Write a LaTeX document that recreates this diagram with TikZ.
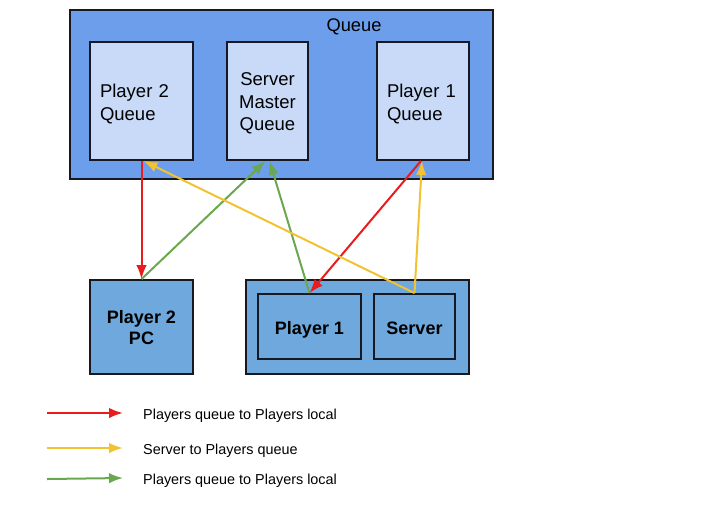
\documentclass[tikz,border=0pt]{standalone}
\usepackage{fontspec}
\setmainfont{Liberation Sans}
\usetikzlibrary{arrows.meta}

\definecolor{edge}{RGB}{22,24,34}
\definecolor{qblue}{RGB}{109,158,235}
\definecolor{qlight}{RGB}{201,218,248}
\definecolor{pcblue}{RGB}{111,168,220}
\definecolor{redline}{RGB}{232,28,28}
\definecolor{yellowline}{RGB}{241,194,50}
\definecolor{greenline}{RGB}{106,168,79}

\begin{document}
\begin{tikzpicture}[x=1pt, y=-1pt, >={Latex[length=14pt,width=10.5pt]},
 box/.style = {draw=edge, line width=1.8pt, inner sep=0pt},
 qbox/.style = {box, fill=qlight, minimum height=118pt, inner xsep=10pt, text height=15pt,
   font=\fontsize{18.5}{22.5}\selectfont},
 pcbox/.style = {box, fill=pcblue, font=\bfseries\fontsize{18}{21.5}\selectfont, align=center, text depth=0pt},
 link/.style = {->, line width=2pt},
 legend/.style = {anchor=west, inner sep=0pt, font=\fontsize{14.4}{17}\selectfont}]
\useasboundingbox (0,0) rectangle (720,507);

% queues
\node[box, fill=qblue, minimum width=423pt, minimum height=169pt] (queue) at (281.5,94.5) {};
\node[font=\fontsize{18.3}{22}\selectfont] (qtitle) at (354,26.5) {Queue};
\node[qbox, text width=83pt, align=left, text depth=21.8pt] (p2q) at (141.5,101) {Player 2\\Queue};
\node[qbox, text width=61pt, align=center, text depth=45.8pt] (smq) at (267.5,101) {Server\\Master\\Queue};
\node[qbox, text width=72pt, align=left, text depth=21.8pt] (p1q) at (423,101) {Player 1\\Queue};

% local machines
\node[pcbox, minimum width=103pt, minimum height=94pt, text height=35pt] (p2pc) at (141.5,327) {Player 2\\PC};
\node[box, fill=pcblue, minimum width=223pt, minimum height=94pt] (host) at (357.5,327) {};
\node[pcbox, minimum width=103pt, minimum height=65pt, text height=16pt] (p1) at (309.5,326.5) {Player 1};
\node[pcbox, minimum width=81pt, minimum height=65pt, text height=16pt] (srv) at (414.5,326.5) {Server};

% connectors
\draw[link, redline] (p2q.south) -- (p2pc.north);
\draw[link, greenline] (p2pc.north) -- ([xshift=-2pt]smq.south);
\draw[link, greenline] (p1.north) -- ([xshift=2pt]smq.south);
\draw[link, redline] ([xshift=-2pt]p1q.south) -- (p1.north);
\draw[link, yellowline] (srv.north) -- ([xshift=2pt]p2q.south);
\draw[link, yellowline] (srv.north) -- ([xshift=-1pt]p1q.south);

% legend
\coordinate (r0) at (47,413);
\coordinate (r1) at (123,413);
\coordinate (y0) at (47,448);
\coordinate (y1) at (123,448);
\coordinate (g0) at (47,479);
\coordinate (g1) at (123,478);
\draw[link, redline] (r0) -- (r1);
\draw[link, yellowline] (y0) -- (y1);
\draw[link, greenline] (g0) -- (g1);
\node[legend] (rtext) at (143,415.5) {Players queue to Players local};
\node[legend] (ytext) at (143,450.5) {Server to Players queue};
\node[legend] (gtext) at (143,480.5) {Players queue to Players local};
\end{tikzpicture}
\end{document}
